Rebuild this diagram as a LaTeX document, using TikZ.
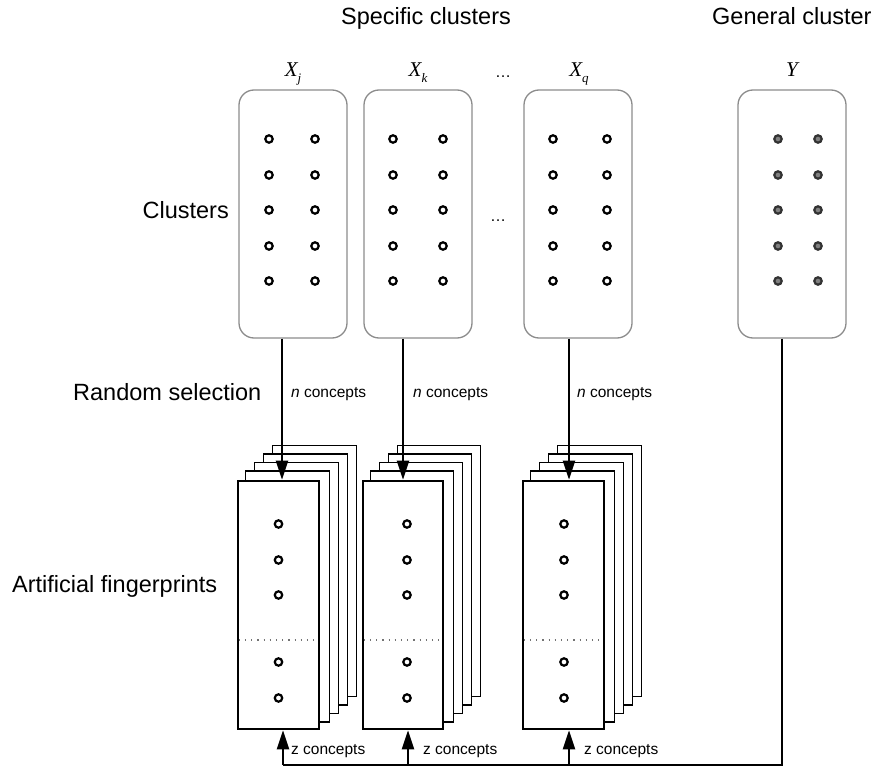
\documentclass[tikz,border=0pt]{standalone}
\usepackage{fontspec}
\setmainfont{Liberation Sans}
\newfontfamily\tnr{Liberation Serif}
\usetikzlibrary{arrows.meta,backgrounds}
\begin{document}
\begin{tikzpicture}[x=1pt,y=-1pt,
 big/.style={font=\fontsize{23.5}{28}\selectfont, inner sep=0pt},
 small/.style={font=\fontsize{15.5}{18}\selectfont, inner sep=0pt, anchor=base west},
 lab/.style={font=\tnr\itshape\fontsize{21}{24}\selectfont, inner sep=0pt, anchor=base},
 ell/.style={font=\fontsize{16}{18}\selectfont, inner sep=0pt, anchor=base},
 clbox/.style={draw=black!45, line width=1.3pt, rounded corners=15pt, minimum width=108pt, minimum height=248pt, inner sep=0pt},
 fpfront/.style={draw=black, line width=2.6pt, fill=white, minimum width=81pt, minimum height=248pt, inner sep=0pt},
 fpback/.style={draw=black, line width=1.5pt, fill=white},
 dotc/.style={draw=black, line width=2.2pt},
 doty/.style={draw=black!80, fill=black!50, line width=2.2pt},
 sep/.style={draw=black!55, line width=1.2pt, dash pattern=on 1.2pt off 5pt},
 conn/.style={line width=2.2pt},
 arr/.style={line width=2.2pt, -{Triangle[length=19pt,width=12pt]}},
]
\useasboundingbox (0,0) rectangle (871,767);

% headings
\node[big, anchor=base] (hs) at (426,25) {Specific clusters};
\node[big, anchor=base west] (hg) at (712,25) {General cluster};
\node[big, anchor=base east] (hc) at (229,219) {Clusters};
\node[big, anchor=base west] (hr) at (73,401) {Random selection};
\node[big, anchor=base west] (ha) at (12,592) {Artificial fingerprints};

% cluster boxes
\node[clbox] (cj) at (293,214) {};
\node[clbox] (ck) at (418,214) {};
\node[clbox] (cq) at (578,214) {};
\node[clbox] (cy) at (792,214) {};

\node[lab] (lj) at (293,77) {X\raisebox{-6pt}{\fontsize{13}{14}\selectfont j}};
\node[lab] (lk) at (418,77) {X\raisebox{-6pt}{\fontsize{13}{14}\selectfont k}};
\node[lab] (lq) at (579,77) {X\raisebox{-6pt}{\fontsize{13}{14}\selectfont q}};
\node[lab] (ly) at (792,77) {Y};
\node[ell] (e1) at (503,78) {\ldots};
\node[ell] (e2) at (498,222) {\ldots};

% cluster dots
\foreach \y in {139,175,210,246,281}{
  \draw[dotc] (269,\y) circle (3.7);
  \draw[dotc] (315,\y) circle (3.7);
  \draw[dotc] (393,\y) circle (3.7);
  \draw[dotc] (443,\y) circle (3.7);
  \draw[dotc] (553,\y) circle (3.7);
  \draw[dotc] (607,\y) circle (3.7);
  \draw[doty] (778,\y) circle (3.7);
  \draw[doty] (818,\y) circle (3.7);
}

% fingerprint stacks
\node[fpfront] (fj) at (278.5,605) {};
\node[fpfront, minimum width=80pt] (fk) at (403,605) {};
\node[fpfront] (fq) at (563.5,605) {};
\begin{scope}[on background layer]
  \foreach \f in {fj,fk,fq}{
    \foreach \i in {4,3,2,1}{
      \draw[fpback] ([shift={(9*\i,-8.5*\i)}]\f.south west) rectangle ([shift={(9*\i,-8.5*\i)}]\f.north east);
    }
  }
\end{scope}
\foreach \f/\x in {fj/278.5,fk/407,fq/564}{
  \draw[sep] ([xshift=2pt,yshift=-35pt]\f.west) -- ([xshift=-2pt,yshift=-35pt]\f.east);
  \foreach \y in {524,560,595,662,698}{
    \draw[dotc] (\x,\y) circle (3.7);
  }
}

% random selection arrows
\draw[arr] ([xshift=-11pt]cj.south) -- ([xshift=-11pt]cj.south |- fj.north);
\draw[arr] ([xshift=-15pt]ck.south) -- ([xshift=-15pt]ck.south |- fk.north);
\draw[arr] ([xshift=-9pt]cq.south) -- ([xshift=-9pt]cq.south |- fq.north);
\node[small] (nj) at (291,398) {\textit{n} concepts};
\node[small] (nk) at (413,398) {\textit{n} concepts};
\node[small] (nq) at (577,398) {\textit{n} concepts};

% general cluster feedback
\coordinate (bj) at (283,765);
\coordinate (bk) at (408,765);
\coordinate (bq) at (569,765);
\draw[conn] ([xshift=-10pt]cy.south) |- (bj);
\draw[arr] (bj) -- (bj |- fj.south);
\draw[arr] (bk) -- (bk |- fk.south);
\draw[arr] (bq) -- (bq |- fq.south);
\node[small] (zj) at (291,754) {z concepts};
\node[small] (zk) at (423,754) {z concepts};
\node[small] (zq) at (584,754) {z concepts};
\end{tikzpicture}
\end{document}
